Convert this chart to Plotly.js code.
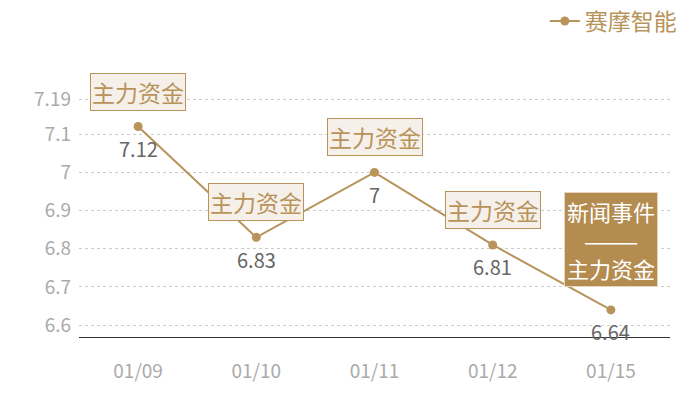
<!DOCTYPE html>
<html>
<head>
<meta charset="utf-8">
<script src="https://cdn.plot.ly/plotly-3.0.1.min.js"></script>
<style>
  html, body { margin: 0; padding: 0; background: #fff; }
  #chart { width: 700px; height: 400px; }
</style>
</head>
<body>
<div id="chart"></div>
<script>
// data
const dates = ["01/09", "01/10", "01/11", "01/12", "01/15"];
const prices = [7.12, 6.83, 7, 6.81, 6.64];
const priceLabels = ["7.12", "6.83", "7", "6.81", "6.64"];
const eventTexts = ["主力资金", "主力资金", "主力资金", "主力资金", "新闻事件<br>———<br>主力资金"];
const yTicks = [6.6, 6.7, 6.8, 6.9, 7, 7.1, 7.19];
const seriesName = "赛摩智能";

const gold = "#b8935a";
const font = "'Noto Sans CJK SC', 'Noto Sans', sans-serif";

const annotations = [];
dates.forEach(function (d, i) {
    const last = i === dates.length - 1;
    // event box above the point
    annotations.push({
        x: d,
        y: prices[i],
        xref: "x",
        yref: "y",
        text: eventTexts[i],
        showarrow: false,
        yshift: last ? 70 : 35,
        font: { family: font, size: last ? 22 : 23, color: last ? "#ffffff" : gold },
        bgcolor: last ? "#b48c50" : "#f5f0e9",
        bordercolor: last ? "#e6d6bd" : gold,
        borderwidth: 1,
        borderpad: last ? 2 : 1
    });
    // value label under the point
    annotations.push({
        x: d,
        y: prices[i],
        xref: "x",
        yref: "y",
        text: priceLabels[i],
        showarrow: false,
        yshift: -22,
        font: { family: font, size: 20, color: "#666666" }
    });
});

Plotly.newPlot("chart", [
    {
        type: "scatter",
        mode: "lines+markers",
        name: seriesName,
        x: dates,
        y: prices,
        line: { color: gold, width: 2 },
        marker: { color: gold, size: 9 },
        cliponaxis: false
    }
], {
    width: 700,
    height: 400,
    margin: { l: 79, r: 30, t: 96, b: 63, autoexpand: false },
    paper_bgcolor: "#ffffff",
    plot_bgcolor: "#ffffff",
    font: { family: font },
    showlegend: true,
    legend: {
        x: 1.02, xanchor: "right",
        y: 1.40, yanchor: "top",
        font: { family: font, size: 23, color: gold },
        bgcolor: "rgba(0,0,0,0)",
        itemwidth: 30
    },
    xaxis: {
        type: "category",
        range: [-0.5, 4.5],
        showgrid: false,
        showline: true,
        linecolor: "#333333",
        linewidth: 1,
        ticks: "",
        ticklabelstandoff: 17,
        tickfont: { family: font, size: 19, color: "#aaaaaa" },
        fixedrange: true
    },
    yaxis: {
        range: [6.569, 7.2],
        tickmode: "array",
        tickvals: yTicks,
        ticktext: yTicks.map(String),
        showgrid: true,
        gridcolor: "#cccccc",
        griddash: "dot",
        gridwidth: 1,
        zeroline: false,
        showline: false,
        ticks: "",
        ticklabelstandoff: 7,
        tickfont: { family: font, size: 19, color: "#aaaaaa" },
        fixedrange: true
    },
    annotations: annotations
}, { displayModeBar: false, staticPlot: true });
</script>
</body>
</html>
